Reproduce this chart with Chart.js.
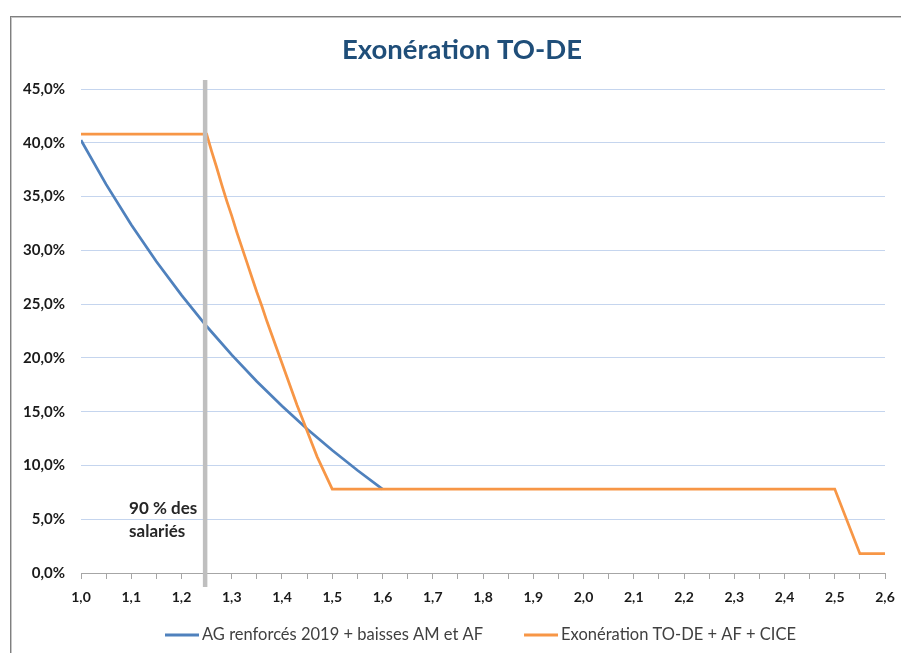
<!DOCTYPE html>
<html lang="fr">
<head>
<meta charset="utf-8">
<title>Exonération TO-DE</title>
<script src="https://cdn.jsdelivr.net/npm/chart.js@4.4.1/dist/chart.umd.min.js"></script>
<style>
  html, body { margin: 0; padding: 0; background: #fff; }
  #wrap { position: relative; width: 901px; height: 653px; overflow: hidden; }
  #frame {
    position: absolute; left: 10px; top: 16px; width: 1000px; height: 1000px;
    border-top: 1px solid #7f7f7f; border-left: 1px solid #7f7f7f;
    box-shadow: inset 1px 1px 0 #c6c6c6;
  }
  canvas { position: absolute; left: 0; top: 0; }
</style>
</head>
<body>
<div id="wrap">
  <div id="frame"></div>
  <canvas id="chart" width="901" height="653"></canvas>
</div>
<script>
// Salary level, in multiples of the SMIC
const agSalary   = [1.00, 1.05, 1.10, 1.15, 1.20, 1.25, 1.30, 1.35, 1.40, 1.45, 1.50, 1.55, 1.60];
// Reduction rate (% of gross salary): AG renforcés 2019 + baisses AM et AF
const agRate     = [40.25, 36.13, 32.38, 28.96, 25.83, 22.94, 20.28, 17.81, 15.53, 13.39, 11.41, 9.55, 7.80];

const todeSalary = [1.00, 1.25, 1.26, 1.27, 1.28, 1.29, 1.30, 1.31, 1.32, 1.33, 1.34, 1.35, 1.36, 1.37,
                    1.38, 1.39, 1.40, 1.41, 1.42, 1.43, 1.44, 1.45, 1.46, 1.47, 1.48, 1.49, 1.50,
                    2.50, 2.55, 2.60];
// Reduction rate (%): Exonération TO-DE + AF + CICE
const todeRate   = [40.8, 40.8, 39.2, 37.7, 36.1, 34.6, 33.2, 31.7, 30.3, 28.9, 27.5, 26.1, 24.8, 23.4,
                    22.1, 20.8, 19.5, 18.2, 16.9, 15.6, 14.4, 13.2, 12.0, 10.8, 9.8, 8.8, 7.8,
                    7.8, 1.8, 1.8];

const seriesNames = ['AG renforcés 2019 + baisses AM et AF', 'Exonération TO-DE + AF + CICE'];
const chartTitle  = 'Exonération TO-DE';
const yTicks      = [0, 5, 10, 15, 20, 25, 30, 35, 40, 45];
const xRange      = [1.0, 2.6];
const markerLevel = 1.247;          // 90 % des salariés below this level
const markerText  = ['90 % des', 'salariés'];

const FONT = 'Lato, "Open Sans", "DejaVu Sans", sans-serif';
const BLUE = '#4f81bd';
const ORANGE = '#f79646';

const toPoints = (xs, ys) => xs.map((x, i) => ({ x, y: ys[i] }));
const frNum = (v, d) => v.toFixed(d).replace('.', ',');

const decor = {
  id: 'decor',
  afterDatasetsDraw(chart) {
    const { ctx, chartArea, scales } = chart;
    const x = scales.x.getPixelForValue(markerLevel);
    ctx.save();
    ctx.strokeStyle = '#bfbfbf';
    ctx.lineWidth = 4.5;
    ctx.beginPath();
    ctx.moveTo(x, chartArea.top - 9);
    ctx.lineTo(x, chartArea.bottom + 14);
    ctx.stroke();
    ctx.restore();
  },
  afterDraw(chart) {
    const { ctx, scales } = chart;
    ctx.save();
    // title
    ctx.fillStyle = '#1f4e79';
    ctx.font = 'bold 27.5px ' + FONT;
    ctx.textAlign = 'center';
    ctx.textBaseline = 'alphabetic';
    ctx.fillText(chartTitle, 462, 59);

    // marker note
    const mx = scales.x.getPixelForValue(markerLevel);
    ctx.fillStyle = '#262626';
    ctx.font = 'bold 17px ' + FONT;
    ctx.textAlign = 'left';
    markerText.forEach((t, i) => ctx.fillText(t, mx - 76, 514 + i * 23));

    // legend
    ctx.font = '16.5px ' + FONT;
    ctx.textBaseline = 'middle';
    const ly = 635;
    let lx = 165;
    chart.data.datasets.forEach((ds, i) => {
      ctx.strokeStyle = ds.borderColor;
      ctx.lineWidth = 3;
      ctx.beginPath();
      ctx.moveTo(lx, ly);
      ctx.lineTo(lx + 34, ly);
      ctx.stroke();
      ctx.fillStyle = '#404040';
      ctx.fillText(ds.label, lx + 37, ly);
      lx += 37 + ctx.measureText(ds.label).width + 41;
    });
    ctx.restore();
  }
};

new Chart(document.getElementById('chart'), {
  type: 'line',
  data: {
    datasets: [
      {
        label: seriesNames[0],
        data: toPoints(agSalary, agRate),
        borderColor: BLUE,
        backgroundColor: BLUE,
        borderWidth: 2.75,
        pointRadius: 0,
        tension: 0,
        order: 1
      },
      {
        label: seriesNames[1],
        data: toPoints(todeSalary, todeRate),
        borderColor: ORANGE,
        backgroundColor: ORANGE,
        borderWidth: 2.75,
        pointRadius: 0,
        tension: 0,
        order: 0
      }
    ]
  },
  options: {
    responsive: false,
    animation: false,
    layout: { padding: { top: 89, right: 16, left: 0, bottom: 0 } },
    plugins: {
      legend: { display: false },
      title: { display: false },
      tooltip: { enabled: false }
    },
    scales: {
      x: {
        type: 'linear',
        min: xRange[0],
        max: xRange[1],
        afterFit(scale) {
          scale.height = 80;
          scale.paddingLeft = 0;
          scale.paddingRight = 0;
        },
        afterBuildTicks(scale) {
          const ticks = [];
          for (let k = 0; k <= 32; k++) ticks.push({ value: Math.round((xRange[0] + k * 0.05) * 100) / 100 });
          scale.ticks = ticks;
        },
        ticks: {
          autoSkip: false,
          maxRotation: 0,
          padding: 10,
          color: '#1a1a1a',
          font: { family: FONT, size: 14, weight: 'bold' },
          callback: v => (Math.round(v * 100) % 10 === 0 ? frNum(v, 1) : '')
        },
        grid: {
          drawOnChartArea: false,
          drawTicks: true,
          tickLength: 6,
          color: '#a6a6a6'
        },
        border: { display: true, color: '#a6a6a6', width: 1 }
      },
      y: {
        min: 0,
        max: 45,
        afterFit(scale) {
          scale.width = 81;
          scale.paddingTop = 0;
          scale.paddingBottom = 0;
        },
        afterBuildTicks(scale) { scale.ticks = yTicks.map(v => ({ value: v })); },
        ticks: {
          padding: 16,
          color: '#1a1a1a',
          font: { family: FONT, size: 15, weight: 'bold' },
          callback: v => frNum(v, 1) + '%'
        },
        grid: { color: '#c5d5ee', lineWidth: 1, drawTicks: false },
        border: { display: false }
      }
    }
  },
  plugins: [decor]
});
</script>
</body>
</html>
